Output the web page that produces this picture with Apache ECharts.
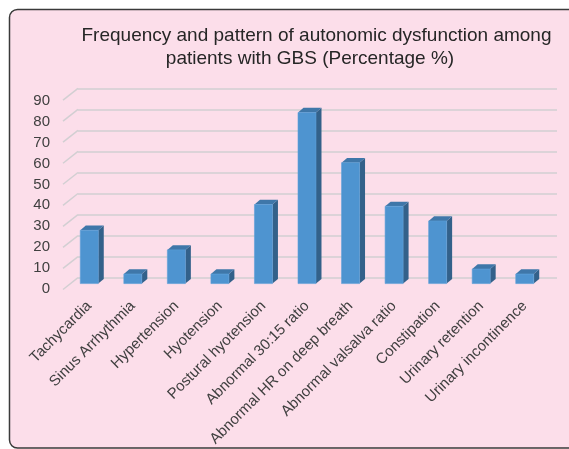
<!DOCTYPE html>
<html>
<head>
<meta charset="utf-8">
<title>Autonomic dysfunction in GBS</title>
<script src="https://cdn.jsdelivr.net/npm/echarts@6/dist/echarts.min.js"></script>
<style>
  html, body { margin: 0; padding: 0; background: #ffffff; }
  #chart { width: 569px; height: 449px; }
</style>
</head>
<body>
<div id="chart"></div>
<script>
// Categories of autonomic dysfunction
const categories = [
  'Tachycardia',
  'Sinus Arrhythmia',
  'Hypertension',
  'Hyotension',
  'Postural hyotension',
  'Abnormal 30:15 ratio',
  'Abnormal HR on deep breath',
  'Abnormal valsalva ratio',
  'Constipation',
  'Urinary retention',
  'Urinary incontinence'
];

// Percentage of patients with each finding
const percentages = [25.6, 4.6, 16.2, 4.6, 38.0, 82.2, 58.1, 37.1, 30.1, 7.0, 4.6];

// Value-axis ticks
const yTicks = [0, 10, 20, 30, 40, 50, 60, 70, 80, 90];

// Chart title, one entry per line
const titleLines = [
  'Frequency and pattern of autonomic dysfunction among',
  'patients with GBS (Percentage %)'
];

const chart = echarts.init(document.getElementById('chart'), null, { renderer: 'canvas' });

const FONT = "'Liberation Sans', Arial, sans-serif";
const GRID_COLOR = '#d2cfd2';
const FRONT = '#4e94d0';
const TOP = '#3f77a9';
const SIDE = '#33618a';
const DEPTH_X = 5.5;
const DEPTH_Y = 4.7;
const WALL_X = 15;
const WALL_Y = 11.8;

// Pseudo-3D column: front face, right side face and top face
function renderColumn(params, api) {
  const i = api.value(0);
  const v = api.value(1);
  const base = api.coord([i, 0]);
  const top = api.coord([i, v]);
  const w = api.size([1, 0])[0] * 0.413;
  const x0 = base[0] - w / 2;
  const x1 = base[0] + w / 2;
  const y0 = base[1];
  const y1 = top[1];
  return {
    type: 'group',
    children: [
      {
        type: 'polygon',
        shape: { points: [[x1, y1], [x1 + DEPTH_X, y1 - DEPTH_Y], [x1 + DEPTH_X, y0 - DEPTH_Y], [x1, y0]] },
        style: { fill: SIDE }
      },
      {
        type: 'polygon',
        shape: { points: [[x0, y1], [x0 + DEPTH_X, y1 - DEPTH_Y], [x1 + DEPTH_X, y1 - DEPTH_Y], [x1, y1]] },
        style: { fill: TOP }
      },
      {
        type: 'rect',
        shape: { x: x0, y: y1, width: x1 - x0, height: y0 - y1 },
        style: { fill: FRONT, stroke: '#5c9fd8', lineWidth: 0.6 }
      }
    ]
  };
}

// Short slanted segments joining each back-wall gridline to the side wall edge
function renderWallEdge(params, api) {
  const t = api.value(1);
  const p = api.coord([0, t]);
  const x = params.coordSys.x;
  return {
    type: 'line',
    shape: { x1: x, y1: p[1], x2: x - WALL_X, y2: p[1] + WALL_Y },
    style: { stroke: GRID_COLOR, lineWidth: 1.5 }
  };
}

const titleStyle = {
  fontFamily: FONT,
  fontSize: 19,
  fontWeight: 'normal',
  color: '#262626'
};

const option = {
  backgroundColor: '#ffffff',
  animation: false,
  graphic: {
    elements: [
      {
        type: 'rect',
        z: -10,
        shape: { x: 9.5, y: 9.5, width: 600, height: 438.5, r: 8 },
        style: { fill: '#fcdeea', stroke: '#3a3a3a', lineWidth: 1.5 }
      }
    ]
  },
  title: [
    { text: titleLines[0], left: 316.5, top: 26, textAlign: 'center', padding: 0, textStyle: titleStyle },
    { text: titleLines[1], left: 310, top: 49, textAlign: 'center', padding: 0, textStyle: titleStyle }
  ],
  grid: [
    // back wall
    { left: 78, right: 12, top: 88.3, bottom: 171.3 },
    // value labels along the front edge
    { left: 63, width: 10, top: 100.7, bottom: 160 },
    // columns
    { left: 67.5, right: 22.5, top: 96.25, bottom: 163.3 }
  ],
  xAxis: [
    { gridIndex: 0, type: 'category', data: categories, show: false },
    { gridIndex: 1, type: 'category', data: categories, show: false },
    {
      gridIndex: 2,
      type: 'category',
      data: categories,
      axisLine: { show: false },
      axisTick: { show: false },
      axisLabel: {
        interval: 0,
        rotate: 45,
        margin: 20,
        fontFamily: FONT,
        fontSize: 15,
        color: '#404040'
      }
    }
  ],
  yAxis: [
    {
      gridIndex: 0,
      type: 'value',
      min: 0,
      max: 90,
      interval: 10,
      axisLine: { show: false },
      axisTick: { show: false },
      axisLabel: { show: false },
      splitLine: { show: true, lineStyle: { color: GRID_COLOR, width: 1.5 } }
    },
    {
      gridIndex: 1,
      type: 'value',
      min: 0,
      max: 90,
      interval: 10,
      axisLine: { show: false },
      axisTick: { show: false },
      splitLine: { show: false },
      axisLabel: {
        margin: 13,
        fontFamily: FONT,
        fontSize: 15,
        color: '#404040'
      }
    },
    {
      gridIndex: 2,
      type: 'value',
      min: 0,
      max: 90,
      interval: 10,
      show: false,
      splitLine: { show: false }
    }
  ],
  series: [
    {
      type: 'custom',
      xAxisIndex: 0,
      yAxisIndex: 0,
      renderItem: renderWallEdge,
      data: yTicks.map(t => [0, t]),
      silent: true,
      z: 1
    },
    {
      type: 'custom',
      xAxisIndex: 2,
      yAxisIndex: 2,
      renderItem: renderColumn,
      data: percentages.map((v, i) => [i, v]),
      z: 3
    }
  ]
};

chart.setOption(option);
</script>
</body>
</html>
